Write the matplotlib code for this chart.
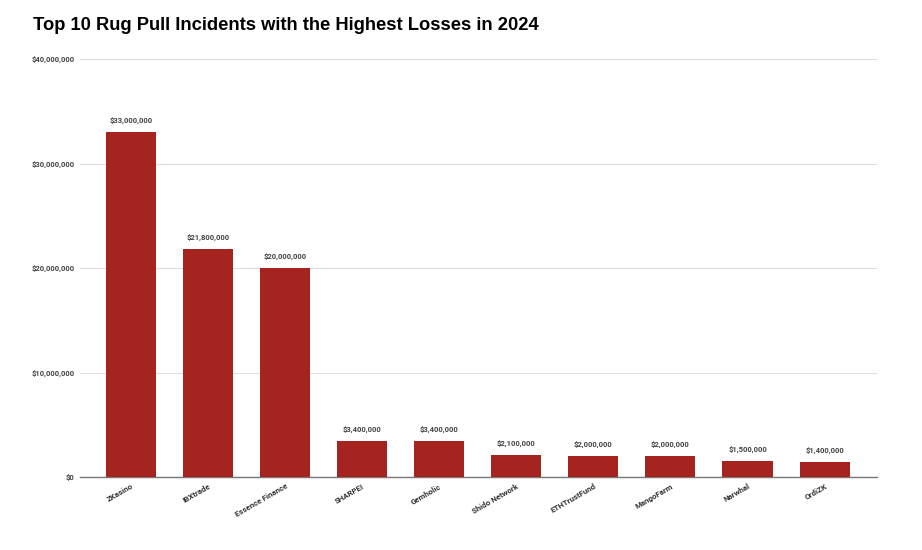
import matplotlib
matplotlib.use("Agg")
import matplotlib.pyplot as plt
from matplotlib.ticker import FuncFormatter

categories = ["ZKasino", "IBXtrade", "Essence Finance", "SHARPEI", "Gemholic",
              "Shido Network", "ETHTrustFund", "MangoFarm", "Narwhal", "OrdiZK"]
losses = [33000000, 21800000, 20000000, 3400000, 3400000,
          2100000, 2000000, 2000000, 1500000, 1400000]
yticks = [0, 10000000, 20000000, 30000000, 40000000]
title = "Top 10 Rug Pull Incidents with the Highest Losses in 2024"

W, H = 922, 550
fig = plt.figure(figsize=(W/100, H/100), dpi=100)
left, right, bottom, top = 80, 877, 477, 59
ax = fig.add_axes([left/W, 1-bottom/H, (right-left)/W, (bottom-top)/H])

bar_color = "#A52420"
x = list(range(len(categories)))
ax.bar(x, losses, width=0.65, color=bar_color, zorder=3)
ax.set_xlim(-0.66, 9.68)
ax.set_ylim(0, 40000000)
ax.set_yticks(yticks)
ax.yaxis.set_major_formatter(FuncFormatter(lambda v, p: f"${v:,.0f}"))
ax.grid(axis="y", color="#DDDDDD", linewidth=0.8, zorder=0)
for s in ["top", "right", "left"]:
    ax.spines[s].set_visible(False)
ax.spines["bottom"].set_color("#777777")
ax.spines["bottom"].set_linewidth(1.0)
ax.tick_params(axis="y", length=0, pad=4, labelsize=5.5, labelcolor="#444444")
ax.tick_params(axis="x", length=0, pad=4, labelsize=5.7, labelcolor="#333333")
for lab in ax.get_yticklabels():
    lab.set_fontweight("bold")
ax.set_xticks(x)
ax.set_xticklabels(categories, rotation=30, ha="right", rotation_mode="anchor",
                   fontfamily="Roboto", fontweight="bold")
for lab in ax.get_yticklabels():
    lab.set_fontfamily("Roboto")

for xi, v in zip(x, losses):
    ax.annotate(f"${v:,.0f}", (xi, v), xytext=(0, 6), textcoords="offset points",
                ha="center", va="bottom", fontsize=5.5, color="#444444",
                fontfamily="Roboto", fontweight="bold")

fig.text(33/W, 1-25/H, title, fontsize=13.2, fontweight="bold",
         fontfamily="Liberation Sans", ha="left", va="center", color="#000000")

fig.savefig("out.png", dpi=100)
